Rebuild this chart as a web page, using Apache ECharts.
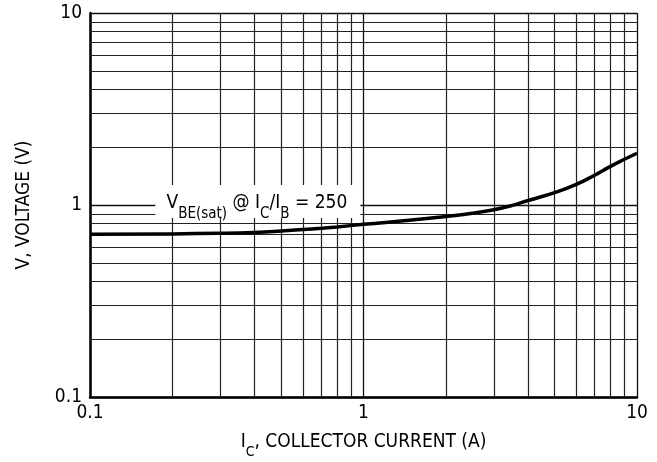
<!DOCTYPE html>
<html>
<head>
<meta charset="utf-8">
<script src="https://cdn.jsdelivr.net/npm/echarts@6/dist/echarts.min.js"></script>
<style>
html,body{margin:0;padding:0;background:#fff;}
#chart{width:657px;height:462px;}
</style>
</head>
<body>
<div id="chart"></div>
<script>
// Data
const currentA = [0.1, 0.2, 0.3, 0.4, 0.5, 0.6, 0.7, 0.8, 1.0, 1.5, 2.0, 2.5, 3.0, 3.5, 4.0, 5.0, 6.0, 7.0, 8.0, 9.0, 10.0];
const vbeSat   = [0.705, 0.707, 0.712, 0.72, 0.732, 0.745, 0.757, 0.769, 0.793, 0.835, 0.872, 0.905, 0.945, 0.995, 1.055, 1.16, 1.28, 1.43, 1.59, 1.73, 1.86];
const minorGridX = [0.2, 0.3, 0.4, 0.5, 0.6, 0.7, 0.8, 0.9, 2, 3, 4, 5, 6, 7, 8, 9];
const minorGridY = [0.2, 0.3, 0.4, 0.5, 0.6, 0.7, 0.8, 0.9, 2, 3, 4, 5, 6, 7, 8, 9];
const axisRange = [0.1, 10];
const annotationPos = [0.411, 1.043];

const FONT = "'DejaVu Sans Condensed', 'Liberation Sans Narrow', sans-serif";

const chart = echarts.init(document.getElementById('chart'), null, {renderer: 'canvas'});

const gridLines = minorGridX.map(v => ({xAxis: v})).concat(minorGridY.map(v => ({yAxis: v})));

const axisCommon = {
  type: 'log',
  logBase: 10,
  min: axisRange[0],
  max: axisRange[1],
  axisTick: {show: false},
  splitLine: {show: true, lineStyle: {color: '#111', width: 1.3}},
  axisLine: {show: true, lineStyle: {color: '#000', width: 2.5}},
  axisLabel: {color: '#000', fontFamily: FONT, fontSize: 19, margin: 7},
  nameLocation: 'middle',
};

chart.setOption({
  animation: false,
  backgroundColor: '#fff',
  grid: {left: 90, right: 20, top: 13, bottom: 65, containLabel: false, outerBoundsMode: 'none'},
  xAxis: Object.assign({}, axisCommon, {
    name: '{a|I}{s|C}{a|, COLLECTOR CURRENT (A)}',
    nameGap: 34,
    nameTextStyle: {
      rich: {
        a: {fontFamily: FONT, fontSize: 19, color: '#000', lineHeight: 22},
        s: {fontFamily: FONT, fontSize: 14, color: '#000', lineHeight: 14, verticalAlign: 'bottom', padding: [0, 0, -6, 0]}
      }
    }
  }),
  yAxis: Object.assign({}, axisCommon, {
    name: 'V, VOLTAGE (V)',
    nameGap: 56,
    nameTextStyle: {fontFamily: FONT, fontSize: 19, color: '#000'},
    axisLabel: {color: '#000', fontFamily: FONT, fontSize: 19, margin: 8, padding: [4, 0, 0, 0]}
  }),
  series: [
    {
      type: 'line',
      data: currentA.map((x, i) => [x, vbeSat[i]]),
      smooth: true,
      showSymbol: false,
      symbol: 'none',
      z: 3,
      lineStyle: {color: '#000', width: 3.5},
      markLine: {
        silent: true,
        z: 1,
        symbol: 'none',
        label: {show: false},
        lineStyle: {color: '#222', width: 1.2, type: 'solid'},
        emphasis: {disabled: true},
        data: gridLines
      },
      markPoint: {
        silent: true,
        z: 10,
        symbol: 'rect',
        symbolSize: [205, 33],
        itemStyle: {color: '#fff'},
        emphasis: {disabled: true},
        label: {
          show: true,
          position: 'inside',
          offset: [-1, 2],
          formatter: '{a|V}{s|BE(sat)}{a| @ I}{s|C}{a|/I}{s|B}{a| = 250}',
          rich: {
            a: {fontFamily: FONT, fontSize: 19, color: '#000', lineHeight: 24},
            s: {fontFamily: FONT, fontSize: 15, color: '#000', lineHeight: 15, verticalAlign: 'bottom', padding: [0, 0, -6, 0]}
          }
        },
        data: [{coord: annotationPos}]
      }
    }
  ]
});
</script>
</body>
</html>
